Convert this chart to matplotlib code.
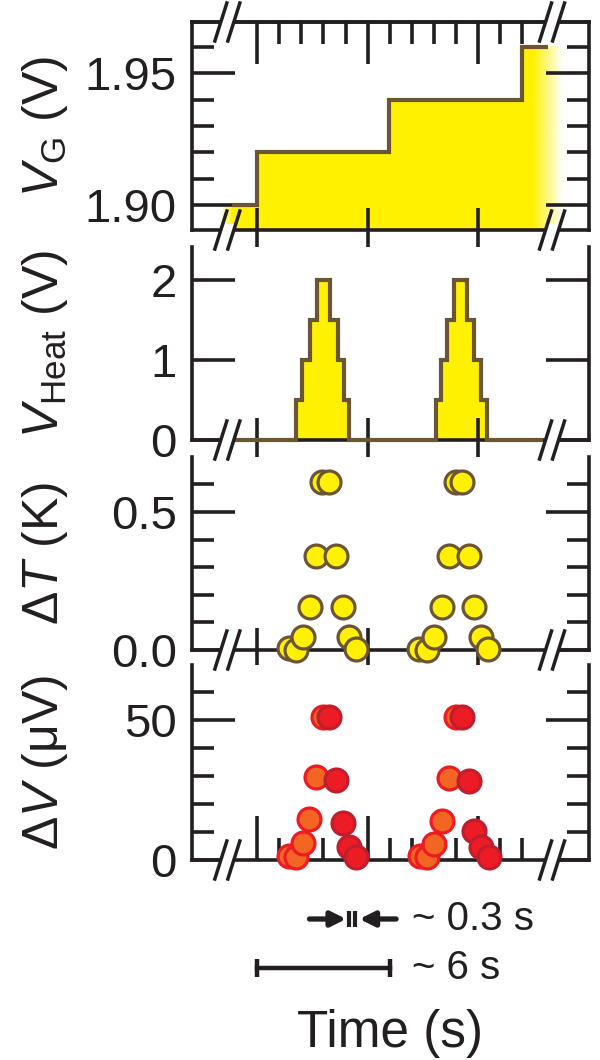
import numpy as np
import matplotlib
matplotlib.use('Agg')
import matplotlib.pyplot as plt
from matplotlib.lines import Line2D
from matplotlib.patches import Polygon
from matplotlib.transforms import blended_transform_factory
from matplotlib.ticker import FixedLocator, NullLocator, FormatStrFormatter

plt.rcParams['font.family'] = ['Liberation Sans', 'DejaVu Sans']
plt.rcParams['mathtext.fontset'] = 'custom'
plt.rcParams['mathtext.rm'] = 'Liberation Sans'
plt.rcParams['mathtext.it'] = 'Liberation Sans:italic'
plt.rcParams['mathtext.bf'] = 'Liberation Sans:bold'

# time axis in s
t_major = [0, 5, 10]
t_minor = [1, 2, 3, 4, 6, 7, 8, 9, 11, 12]
t_break = [-1.35, 13.35]

# gate voltage steps
vg_edges = [-1.12, 0.0, 5.95, 11.97, 13.15]
vg_level = [1.90, 1.92, 1.94, 1.96]
vg_fade = [12.45, 13.85]
vg_fade_left = [-1.65, -1.12]

# heater pulses
heat_edges = [-1.12, 1.78, 2.05, 2.37, 2.73, 3.32, 3.64, 3.91, 4.18,
              8.11, 8.34, 8.61, 8.93, 9.52, 9.83, 10.15, 10.42, 12.95]
heat_level = [0, 0.5, 1.0, 1.5, 2.0, 1.5, 1.0, 0.5,
              0, 0.5, 1.0, 1.5, 2.0, 1.5, 1.0, 0.5, 0]

# delta T, rising / falling halves
dT_t_up = [1.46, 1.76, 2.06, 2.37, 2.67, 2.94, 7.34, 7.67, 8.02, 8.37, 8.67, 9.00]
dT_up = [0.006, 0.0, 0.048, 0.155, 0.341, 0.61, 0.003, 0.0, 0.046, 0.155, 0.341, 0.61]
dT_t_dn = [3.27, 3.57, 3.87, 4.18, 4.48, 9.28, 9.58, 9.83, 10.14, 10.43]
dT_dn = [0.61, 0.341, 0.155, 0.046, 0.003, 0.61, 0.341, 0.155, 0.046, 0.003]

# delta V, rising / falling halves
dV_t_up = [1.46, 1.76, 2.06, 2.33, 2.67, 2.97, 7.38, 7.67, 8.02, 8.37, 8.67, 9.00]
dV_up = [1.4, 1.0, 6.2, 14.5, 29.5, 51.2, 1.4, 1.0, 5.7, 14.0, 29.2, 51.2]
dV_t_dn = [3.24, 3.57, 3.87, 4.18, 4.48, 9.28, 9.58, 9.83, 10.14, 10.48]
dV_dn = [51.2, 28.6, 13.1, 4.5, 1.0, 51.2, 28.3, 10.5, 4.5, 1.0]

# scale bars
bar_short = [2.37, 4.03, 4.63, 6.29]   # arrow tails / tips
bar_ticks = [4.18, 4.44]
bar_long = [0, 6]

dark = '#231f20'
yellow = '#fff100'
brown = '#6b5535'
orange = '#f26522'
red = '#ed1c24'
dred = '#be1e2d'
lw = 2.6

fig = plt.figure(figsize=(6, 10.6), dpi=100)
L, W = 192 / 600, 396.5 / 600


def frame(top, bot):
    return [L, 1 - bot / 1060, W, (bot - top) / 1060]


ax1 = fig.add_axes(frame(22, 230))
ax2 = fig.add_axes(frame(247, 440))
ax3 = fig.add_axes(frame(457, 650))
ax4 = fig.add_axes(frame(665, 860))
axes = [ax1, ax2, ax3, ax4]

for ax in axes:
    ax.set_xlim(-2.95, 15.0)
    for s in ax.spines.values():
        s.set_linewidth(lw)
        s.set_color(dark)
    ax.tick_params(axis='both', which='both', colors=dark, width=lw,
                   labelsize=34, pad=11)
    ax.tick_params(axis='y', which='major', direction='in', length=31,
                   left=True, right=True)
    ax.tick_params(axis='y', which='minor', direction='in', length=16,
                   left=True, right=True)
    ax.xaxis.set_major_locator(FixedLocator(t_major))
    ax.tick_params(axis='x', labelbottom=False, top=False)
    ax.xaxis.set_minor_locator(NullLocator())
    if ax is not ax1:
        ax.spines['top'].set_visible(False)

for ax in [ax1, ax2, ax3]:
    ax.tick_params(axis='x', which='major', direction='inout', length=32)
ax4.tick_params(axis='x', which='major', direction='in', length=32)
ax4.xaxis.set_minor_locator(FixedLocator(t_minor))
ax4.tick_params(axis='x', which='minor', direction='in', length=16, width=lw,
                colors=dark)

# top ticks of first panel
sec = ax1.secondary_xaxis('top')
sec.xaxis.set_major_locator(FixedLocator(t_major))
sec.xaxis.set_minor_locator(FixedLocator(t_minor))
sec.tick_params(axis='x', which='major', direction='in', length=30, width=lw,
                colors=dark, labeltop=False)
sec.tick_params(axis='x', which='minor', direction='in', length=16, width=lw,
                colors=dark)
sec.spines['top'].set_linewidth(lw)
sec.spines['top'].set_color(dark)

# panel 1: V_G
vg_ylim = (1.8905, 1.9694)
fill_edges = vg_edges[:-1] + [vg_fade[0]]
ax1.stairs(vg_level, fill_edges, baseline=vg_ylim[0], fill=True,
           color=yellow, lw=0, zorder=1)
grad = np.zeros((1, 256, 4))
grad[..., :3] = matplotlib.colors.to_rgb(yellow)
grad[..., 3] = np.linspace(1, 0, 256)
ax1.imshow(grad, extent=(vg_fade[0], vg_fade[1], vg_ylim[0], vg_level[-1]),
           aspect='auto', interpolation='bilinear', zorder=1)
ax1.imshow(grad[:, ::-1], extent=(vg_fade_left[0], vg_fade_left[1], vg_ylim[0], vg_level[0]),
           aspect='auto', interpolation='bilinear', zorder=1)
ax1.stairs(vg_level, vg_edges, baseline=None, color=brown, lw=3, zorder=3)
ax1.set_xlim(-2.95, 15.0)
ax1.set_ylim(*vg_ylim)
ax1.yaxis.set_major_locator(FixedLocator([1.90, 1.95]))
ax1.yaxis.set_minor_locator(FixedLocator([1.91, 1.92, 1.93, 1.94, 1.96]))
ax1.yaxis.set_major_formatter(FormatStrFormatter('%.2f'))
ax1.set_ylabel('$V_{\\mathrm{G}}$ (V)', fontsize=36, color=dark)

# panel 2: V_Heat
ax2.stairs(heat_level, heat_edges, baseline=0, fill=True, color=yellow, lw=0, zorder=1)
ax2.stairs(heat_level, heat_edges, baseline=None, color=brown, lw=3, zorder=3,
           clip_on=False)
ax2.set_ylim(0, 2.41)
ax2.yaxis.set_major_locator(FixedLocator([0, 1, 2]))
ax2.yaxis.set_minor_locator(NullLocator())
ax2.yaxis.set_major_formatter(FormatStrFormatter('%d'))
ax2.set_ylabel('$V_{\\mathrm{Heat}}$ (V)', fontsize=36, color=dark)

# panel 3: delta T
mk = dict(marker='o', ms=16.5, mew=2.3, ls='none', clip_on=False, zorder=3)
for t, v in zip(dT_t_up + dT_t_dn, dT_up + dT_dn):
    ax3.plot(t, v, mfc=yellow, mec=brown, **mk)
ax3.set_ylim(0, 0.699)
ax3.yaxis.set_major_locator(FixedLocator([0.0, 0.5]))
ax3.yaxis.set_minor_locator(FixedLocator([0.1, 0.2, 0.3, 0.4, 0.6]))
ax3.yaxis.set_major_formatter(FormatStrFormatter('%.1f'))
ax3.set_ylabel('Δ$T$ (K)', fontsize=36, color=dark)

# panel 4: delta V
for t, v in zip(dV_t_up, dV_up):
    ax4.plot(t, v, mfc=orange, mec=red, **mk)
for t, v in zip(dV_t_dn, dV_dn):
    ax4.plot(t, v, mfc=red, mec=dred, **mk)
ax4.set_ylim(0, 69.6)
ax4.yaxis.set_major_locator(FixedLocator([0, 50]))
ax4.yaxis.set_minor_locator(FixedLocator([10, 20, 30, 40, 60]))
ax4.yaxis.set_major_formatter(FormatStrFormatter('%d'))
ax4.set_ylabel('Δ$V$ (μV)', fontsize=36, color=dark)

for ax in axes:
    ax.set_xlim(-2.95, 15.0)
    ax.yaxis.set_label_coords(-0.308, 0.5)


# axis break marks "//"
def brk(ax, t, yfrac):
    tr = blended_transform_factory(ax.transData, ax.transAxes)
    cx, cy = tr.transform((t, yfrac))
    inv = fig.transFigure.inverted()
    h, w, g = 19, 6, 6.5
    e = w * 6 / h
    pts = [(cx - g - e, cy - 6), (cx + g - e, cy - 6), (cx + g + e, cy + 6), (cx - g + e, cy + 6)]
    fig.add_artist(Polygon(inv.transform(pts), closed=True, fc='white', ec='none',
                           transform=fig.transFigure, zorder=5))
    for s in (-g, g):
        xy = inv.transform([(cx + s - w, cy - h), (cx + s + w, cy + h)])
        fig.add_artist(Line2D(xy[:, 0], xy[:, 1], color=dark, lw=2.5,
                              transform=fig.transFigure, zorder=6))


for t in t_break:
    brk(ax1, t, 1)
    for ax in axes:
        brk(ax, t, 0)

# scale bars below
trb = blended_transform_factory(ax4.transData, fig.transFigure)
y1 = 1 - 919 / 1060
y2 = 1 - 968 / 1060
ap = dict(arrowstyle='-|>', color=dark, lw=3.8, mutation_scale=22, shrinkA=0, shrinkB=0)
ax4.annotate('', xy=(bar_short[1], y1), xytext=(bar_short[0], y1),
             xycoords=trb, textcoords=trb, arrowprops=ap, annotation_clip=False)
ax4.annotate('', xy=(bar_short[2], y1), xytext=(bar_short[3], y1),
             xycoords=trb, textcoords=trb, arrowprops=ap, annotation_clip=False)
ax4.plot(bar_ticks, [y1, y1], transform=trb, ls='none', marker='|', ms=12,
         mew=3, color=dark, clip_on=False)
ax4.plot(bar_long, [y2, y2], transform=trb, color=dark, lw=3.2, marker='|',
         ms=13, mew=3.2, clip_on=False)
ax4.text(6.99, y1, '~ 0.3 s', transform=trb, fontsize=29, color=dark,
         ha='left', va='center')
ax4.text(6.99, y2, '~ 6 s', transform=trb, fontsize=29, color=dark,
         ha='left', va='center')
tl = blended_transform_factory(ax4.transAxes, fig.transFigure)
ax4.text(0.5, 1 - 1034 / 1060, 'Time (s)', transform=tl, fontsize=37,
         color=dark, ha='center', va='center')

fig.savefig('out.png', dpi=100)
